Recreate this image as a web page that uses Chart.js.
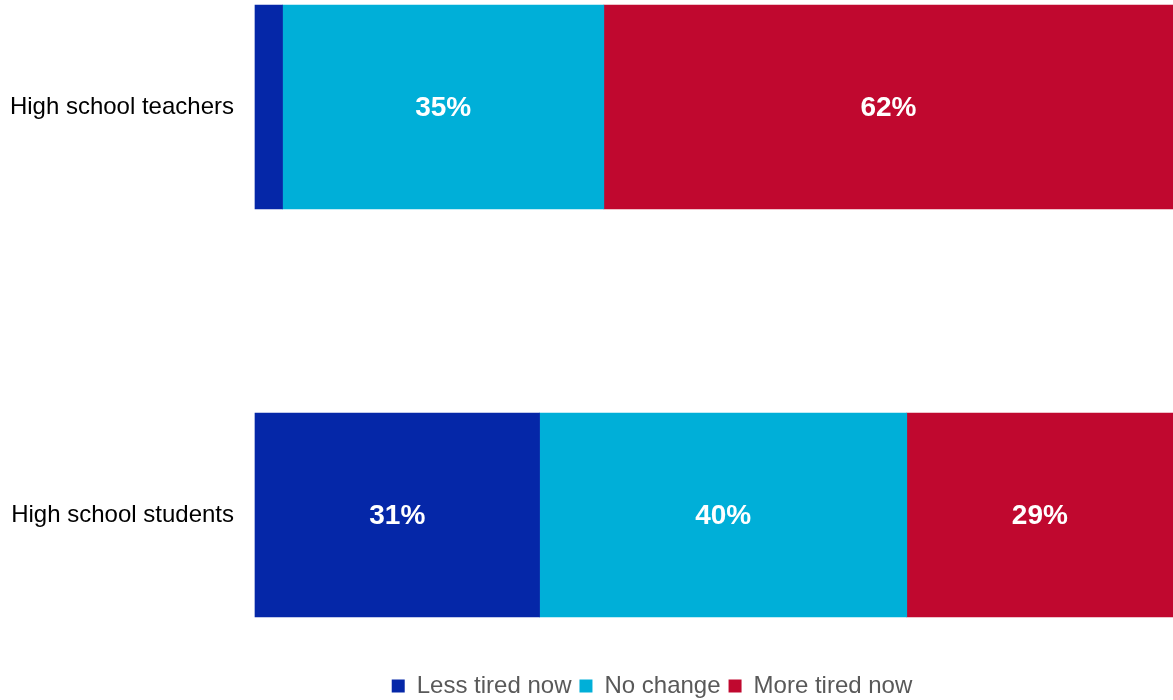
<!DOCTYPE html>
<html>
<head>
<meta charset="utf-8">
<script src="https://cdn.jsdelivr.net/npm/chart.js@4"></script>
<style>
  html, body { margin: 0; padding: 0; background: #fff; }
  #wrap { width: 1173px; height: 700px; }
</style>
</head>
<body>
<div id="wrap"><canvas id="chart"></canvas></div>
<script>
const categories = ["High school teachers", "High school students"];
const lessTired = [3, 31];
const noChange = [35, 40];
const moreTired = [62, 29];

const seriesNames = ["Less tired now", "No change", "More tired now"];
const colors = ["#0527a8", "#00afd8", "#c0082f"];

/* white % labels in the middle of each segment */
const barLabels = {
  id: "barLabels",
  afterDatasetsDraw(c) {
    const ctx = c.ctx;
    ctx.save();
    ctx.font = "bold 28px 'Liberation Sans', Arial, sans-serif";
    ctx.fillStyle = "#fff";
    ctx.textAlign = "center";
    ctx.textBaseline = "middle";
    c.data.datasets.forEach((ds, i) => {
      c.getDatasetMeta(i).data.forEach((el, j) => {
        const v = ds.data[j];
        if (v < 5) return;
        const p = el.getCenterPoint();
        ctx.fillText(v + "%", p.x, p.y + 1);
      });
    });
    ctx.restore();
  }
};

// the original legend sits a bit right of the page centre
const legendShift = {
  id: "legendShift",
  afterLayout(c) { c.legend.left = 131; }
};

const series = [lessTired, noChange, moreTired];

new Chart(chart, {
  type: "bar",
  data: {
    labels: categories,
    datasets: series.map((d, i) => ({
      label: seriesNames[i],
      data: d,
      backgroundColor: colors[i],
      borderWidth: 0,
      barThickness: 204,
      clip: false
    }))
  },
  plugins: [barLabels, legendShift],
  options: {
    indexAxis: "y",
    responsive: true,
    maintainAspectRatio: false,
    animation: false,
    layout: { padding: { top: 107, right: 0, left: 0, bottom: -8 } },
    scales: {
      x: {
        stacked: true,
        min: 0,
        max: 100,
        grid: { display: false },
        border: { display: false },
        ticks: { display: false },
        afterFit: s => { s.height = 151; }
      },
      y: {
        stacked: true,
        offset: false,
        grid: { display: false },
        border: { display: false },
        ticks: {
          color: "#000",
          padding: 13,
          font: { family: "'Liberation Sans', Arial, sans-serif", size: 24 }
        },
        afterFit: s => { s.width = 255; }
      }
    },
    plugins: {
      legend: {
        position: "bottom",
        labels: {
          boxWidth: 13,
          boxHeight: 13,
          padding: 8,
          color: "#595959",
          font: { family: "'Liberation Sans', Arial, sans-serif", size: 24 }
        }
      },
      tooltip: { enabled: false }
    }
  }
});
</script>
</body>
</html>
